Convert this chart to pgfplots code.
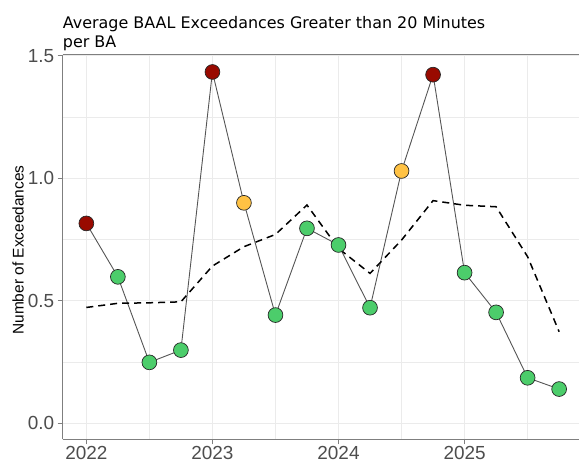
\documentclass[border=0pt]{standalone}
\usepackage{pgfplots}
\pgfplotsset{compat=1.18}
\usepackage{pgfplotstable}
\usepackage{fontspec}
\setmainfont{Liberation Sans}
\newfontfamily\titlefont{DejaVu Sans}
\usetikzlibrary{calc}

\definecolor{hotred}{HTML}{990A00}
\definecolor{warnyel}{HTML}{FFC244}
\definecolor{okgreen}{HTML}{4CCD6B}
\definecolor{tickgray}{HTML}{4D4D4D}
\definecolor{bordergray}{HTML}{7F7F7F}
\definecolor{gridgray}{HTML}{EBEBEB}
\definecolor{linegray}{HTML}{555555}

% quarterly average exceedances, class = marker colour
\pgfplotstableread{
x y c
2022.00 0.816 red
2022.25 0.598 grn
2022.50 0.249 grn
2022.75 0.299 grn
2023.00 1.434 red
2023.25 0.900 yel
2023.50 0.442 grn
2023.75 0.796 grn
2024.00 0.728 grn
2024.25 0.472 grn
2024.50 1.030 yel
2024.75 1.423 red
2025.00 0.615 grn
2025.25 0.453 grn
2025.50 0.186 grn
2025.75 0.140 grn
}\actual

% dashed reference line
\pgfplotstableread{
x y
2022.00 0.473
2022.25 0.490
2022.50 0.492
2022.75 0.496
2023.00 0.642
2023.25 0.721
2023.50 0.771
2023.75 0.891
2024.00 0.714
2024.25 0.612
2024.50 0.748
2024.75 0.909
2025.00 0.890
2025.25 0.884
2025.50 0.680
2025.75 0.374
}\avg

\begin{document}
\begin{tikzpicture}
\begin{axis}[
    scale only axis,
    width=516.3bp, height=384.6bp,
    % x is plotted as years after 2022
    xmin=-0.1875, xmax=3.9075,
    ymin=-0.065, ymax=1.5045,
    clip=false,
    axis x line*=bottom, axis y line*=left,
    axis line style={bordergray, line width=1.2bp},
    xtick={0,1,2,3},
    xticklabels={2022,2023,2024,2025},
    minor xtick={0.5,1.5,2.5,3.5},
    ytick={0,0.5,1,1.5},
    minor ytick={0.25,0.75,1.25},
    grid=both,
    major grid style={gridgray, line width=1bp},
    minor grid style={gridgray, line width=0.5bp},
    tick align=outside,
    major tick length=5bp, minor tick length=0bp,
    tick style={bordergray, line width=0.9bp},
    /pgf/number format/assume math mode=true,
    xticklabel style={font=\fontsize{19}{19}\selectfont, text=tickgray, inner ysep=0.5bp, yshift=-0.8bp},
    yticklabel style={/pgf/number format/fixed, /pgf/number format/fixed zerofill, /pgf/number format/precision=1, font=\fontsize{19}{19}\selectfont, text=tickgray},
    ylabel={Number of Exceedances},
    every axis y label/.style={at={(rel axis cs:0,0.492)}, xshift=-44.7bp, rotate=90, anchor=center, font=\fontsize{15.5}{15.5}\selectfont},
]
\addplot[color=linegray, line width=0.9bp, no marks] table[x expr=\thisrow{x}-2022, y=y] {\actual};
\addplot[black, line width=1.5bp, dash pattern=on 7bp off 5bp, no marks] table[x expr=\thisrow{x}-2022, y=y] {\avg};
\addplot[only marks, scatter, scatter src=explicit symbolic, mark=*, mark size=7.4bp,
    mark options={line width=0.7bp},
    scatter/classes={
        red={mark=*, fill=hotred, draw=black!85},
        yel={mark=*, fill=warnyel, draw=black!85},
        grn={mark=*, fill=okgreen, draw=black!85}}]
    table[x expr=\thisrow{x}-2022, y=y, meta=c] {\actual};
\draw[bordergray, line width=1.2bp] (rel axis cs:0,1) -- (rel axis cs:1,1);
\node[anchor=base west, inner sep=0pt, yshift=25.9bp, font=\titlefont\fontsize{16}{16}\selectfont] at (rel axis cs:0,1) {Average BAAL Exceedances Greater than 20 Minutes};
\node[anchor=base west, inner sep=0pt, yshift=6.7bp, font=\titlefont\fontsize{16}{16}\selectfont] at (rel axis cs:0,1) {per BA};
\coordinate (bl) at (rel axis cs:0,0);
\coordinate (tr) at (rel axis cs:1,1);
\end{axis}
\pgfresetboundingbox
\path ($(bl)+(-62.7bp,-24.7bp)$) rectangle ($(tr)+(0bp,54.7bp)$);
\end{tikzpicture}
\end{document}
